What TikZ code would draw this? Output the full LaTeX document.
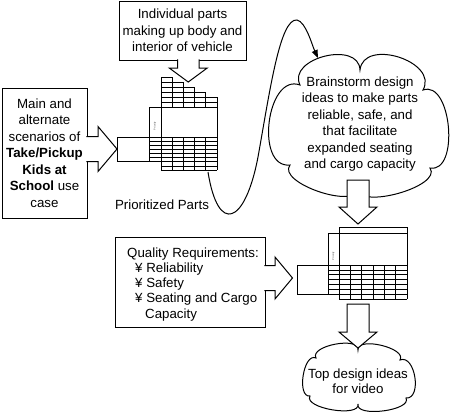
\documentclass[tikz,border=0pt]{standalone}
\usepackage{fontspec}
\setmainfont{Liberation Sans}
\usetikzlibrary{arrows.meta}
\begin{document}
\begin{tikzpicture}[x=1pt,y=-1pt,
  font=\fontsize{13.3}{16.5}\selectfont,
  box/.style={draw, line width=1pt, fill=white, align=center, inner sep=0pt},
  blk/.style={draw, fill=white, line width=1pt, line join=miter},
  cloudline/.style={draw, fill=white, line width=1pt},
  gridline/.style={line width=0.7pt},
  lbl/.style={align=center, inner sep=0pt},
  tiny/.style={font=\fontsize{2.6}{3}\selectfont, rotate=90, inner sep=0pt, text=black!70}]
\useasboundingbox (0,0) rectangle (450,416);

% ---------- clouds ----------
\path[cloudline] (300,85)
  .. controls (286.9,58.1) and (358.9,40.1) .. (360,70)
  .. controls (363.4,37.5) and (439,61.5) .. (423,90)
  .. controls (451.5,79.6) and (459.9,173.2) .. (430,168)
  .. controls (442.9,186.5) and (356.5,210.5) .. (358,188)
  .. controls (358,210.5) and (276.4,182.9) .. (290,165)
  .. controls (254.6,168.7) and (266.6,72.7) .. (300,85) -- cycle;
\node[lbl, font=\fontsize{13.3}{16.4}\selectfont] (brain) at (360,124)
  {Brainstorm design\\ideas to make parts\\reliable, safe, and\\that facilitate\\expanded seating\\and cargo capacity};

\path[cloudline] (316,358)
  .. controls (309.3,345.7) and (359.7,336.1) .. (358,350)
  .. controls (356.9,336.1) and (407.3,348.1) .. (400,360)
  .. controls (415.2,353.7) and (422.4,399.3) .. (406,398)
  .. controls (412.4,410.6) and (354.8,417.8) .. (358,404)
  .. controls (360.6,417.9) and (303,408.3) .. (310,396)
  .. controls (296.3,397.7) and (303.5,352.1) .. (316,358) -- cycle;
\node[lbl, font=\fontsize{13.3}{15}\selectfont] (ideas) at (358,381) {Top design ideas\\for video};

% ---------- boxes ----------
\node[box, minimum width=127pt, minimum height=59pt] (parts) at (182.5,30.5)
  {Individual parts\\making up body and\\interior of vehicle};
\node[box, minimum width=85pt, minimum height=130pt] (usecase) at (44.5,153)
  {Main and\\alternate\\scenarios of\\\textbf{Take/Pickup}\\\textbf{Kids at}\\\textbf{School} use\\case};
\node[box, minimum width=150pt, minimum height=90pt] (quality) at (190,282) {};
\node[anchor=north west, inner sep=0pt, align=left, font=\fontsize{13.3}{15.2}\selectfont] (qtext) at (127,247.5)
  {Quality Requirements:\\\hspace*{8pt}¥ Reliability\\\hspace*{8pt}¥ Safety\\\hspace*{8pt}¥ Seating and Cargo\\\hspace*{18pt}Capacity};

\node[lbl] (prio) at (162,205) {Prioritized Parts};

% ---------- matrix 1 ----------
\foreach \k/\xe in {0/172.2,1/183.4,2/194.6,3/205.8,4/217,5/217,6/217}
  \draw[gridline] (161,{77+5*\k}) -- (\xe,{77+5*\k});
\foreach \x/\ys in {172.2/77,183.4/82,194.6/87,205.8/92}
  \draw[gridline] (\x,\ys) -- (\x,107);
\foreach \x in {172.2,183.4,194.6,205.8}
  \draw[gridline] (\x,137) -- (\x,170);
\draw[gridline] (161,77) -- (161,170);
\draw[gridline] (217,97) -- (217,170);
\draw[gridline] (149,107) rectangle (161,161.75);
\draw[gridline] (117,137) rectangle (149,161.75);
\foreach \r in {0,...,6}
  \draw[gridline] (149,{137+33/8*\r}) -- (217,{137+33/8*\r});
\foreach \r in {7,8}
  \draw[gridline] (161,{137+33/8*\r}) -- (217,{137+33/8*\r});
\draw[gridline] (149,107) -- (217,107);
\node[tiny] (pr1) at (155,126) {Priority};
\coordinate (m1left) at (117,149);

% ---------- matrix 2 ----------
\draw[gridline] (339,227) rectangle (407,233);
\draw[gridline] (339,233) rectangle (407,265);
\draw[gridline] (328,233) rectangle (339,294.4);
\draw[gridline] (297,265) rectangle (328,294.4);
\foreach \r in {0,...,6}
  \draw[gridline] (328,{265+4.9*\r}) -- (407,{265+4.9*\r});
\draw[gridline] (339,299.3) -- (407,299.3);
\foreach \j in {0,...,6}
  \draw[gridline] ({339+68/6*\j},265) -- ({339+68/6*\j},299.3);
\node[tiny] (pr2) at (333.5,256) {Priority};

% ---------- block arrows ----------
% parts -> matrix 1
\path[blk] (177.5,59.4) -- (177.5,68) -- (169.25,68) -- (188.25,82) -- (207.25,68) -- (199,68) -- (199,59.4);
% use case -> matrix 1
\path[blk] (86.4,136.5) -- (98,136.5) -- (98,126.5) -- (m1left) -- (98,171.5) -- (98,161.5) -- (86.4,161.5);
% quality -> matrix 2
\path[blk] (264.4,265.5) -- (275,265.5) -- (275,257) -- (292.5,278) -- (275,299) -- (275,290.5) -- (264.4,290.5);
% brainstorm -> matrix 2
\path[blk] (347,180) -- (347,207) -- (339,207) -- (358,224) -- (377,207) -- (369,207) -- (369,180) -- cycle;
% matrix 2 -> top ideas
\path[blk] (347,304) -- (347,332) -- (339,332) -- (358,348) -- (377,332) -- (369,332) -- (369,304) -- cycle;

% ---------- curved connector ----------
\coordinate (cstart) at (208,172);
\coordinate (cend) at (318,58);
\draw[line width=1pt, -{Triangle[length=8pt,width=6pt]}] (cstart)
  .. controls (218,235) and (245,225) .. (258,157)
  .. controls (270,90) and (280,18) .. (297,20)
  .. controls (306,22) and (312,45) .. (cend);
\end{tikzpicture}
\end{document}
